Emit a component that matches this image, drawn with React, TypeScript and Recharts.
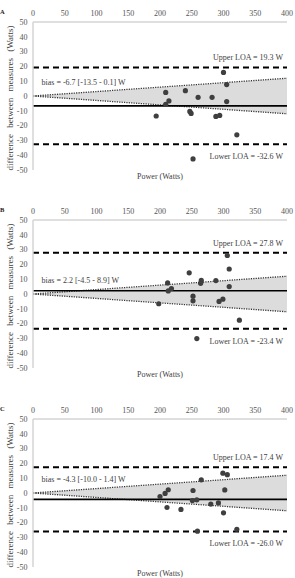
import React from "react";
import {
  ComposedChart,
  XAxis,
  YAxis,
  Scatter,
  Line,
  Area,
  ReferenceLine,
  ReferenceArea,
} from "recharts";

const powerTicks = [0, 50, 100, 150, 200, 250, 300, 350, 400];
const diffTicks = [-50, -40, -30, -20, -10, 0, 10, 20, 30, 40, 50];

// shaded confidence band (dotted edges), same in every panel
const bandPower = [0, 400];
const bandUpper = [0, 12];
const bandLower = [0, -12];

// panel A
const powerA = [194, 209, 209, 214, 240, 247, 249, 252, 260, 282, 288, 294, 300, 305, 305, 321];
const diffA = [-13.5, 2.4, -5.6, -3.3, 3.6, -10.4, -11.8, -42.5, -0.9, -0.9, -13.8, -13.1, 15.9, 7.7, -3.8, -26.2];

// panel B
const powerB = [198, 212, 213, 218, 246, 252, 252, 258, 265, 264, 288, 293, 299, 306, 309, 309, 325];
const diffB = [-6.6, 7.5, 2.1, 3.7, 14.3, -1.5, -4.6, -30.1, 9.2, 7.2, 9.1, -5.0, -3.5, 26, 16.9, 5.0, -17.7];

// panel C
const powerC = [200, 208, 213, 211, 233, 252, 251, 258, 265, 259, 280, 292, 299, 306, 302, 300, 321];
const diffC = [-2.4, -0.3, 2.2, -9.8, -11.1, 1.7, -5.1, -4.6, 8.9, -25.8, -7.5, -6.7, 13.4, 12.4, 2.1, -13.4, -24.5];

const panels = [
  { letter: "A", power: powerA, diff: diffA, bias: -6.7, upper: 19.3, lower: -32.6, biasText: "bias = -6.7 [-13.5 - 0.1] W", boxEnd: 150, top: 0 },
  { letter: "B", power: powerB, diff: diffB, bias: 2.2, upper: 27.8, lower: -23.4, biasText: "bias = 2.2 [-4.5 - 8.9] W", boxEnd: 140, top: 198 },
  { letter: "C", power: powerC, diff: diffC, bias: -4.3, upper: 17.4, lower: -26.0, biasText: "bias = -4.3 [-10.0 - 1.4] W", boxEnd: 150, top: 397 },
];

const serif = "'Liberation Serif', 'Times New Roman', serif";
const textColor = "#404040";

const Dot = (props: any) => (
  <circle cx={props.cx} cy={props.cy} r={2.6} fill="#3f3f3f" />
);

const loaLabel = (text: string, dy: number) => (p: any) => {
  const vb = p.viewBox || {};
  return (
    <text
      x={(vb.x || 0) + (vb.width || 0) - 4}
      y={(vb.y || 0) + dy}
      textAnchor="end"
      fontSize={8}
      fontFamily={serif}
      fill={textColor}
    >
      {text}
    </text>
  );
};

const biasLabel = (text: string) => (p: any) => {
  const vb = p.viewBox || {};
  return (
    <text
      x={(vb.x || 0) + 8.5}
      y={(vb.y || 0) + (vb.height || 0) / 2}
      dy="0.33em"
      fontSize={8}
      fontFamily={serif}
      fill={textColor}
    >
      {text}
    </text>
  );
};

function Panel({ letter, power, diff, bias, upper, lower, biasText, boxEnd, top }: any) {
  const points = power.map((p: number, i: number) => ({ power: p, diff: diff[i] }));
  const band = bandPower.map((p, i) => ({
    power: p,
    hi: bandUpper[i],
    lo: bandLower[i],
    range: [bandLower[i], bandUpper[i]],
  }));
  return (
    <div style={{ position: "absolute", left: 0, top, width: 295, height: 181 }}>
      <ComposedChart width={295} height={181} margin={{ top: 2, right: 8, bottom: 11, left: 0 }}>
        <XAxis
          type="number"
          dataKey="power"
          orientation="top"
          domain={[0, 400]}
          ticks={powerTicks}
          height={20}
          tickSize={0}
          tickMargin={6}
          axisLine={{ stroke: "#bfbfbf" }}
          tick={{ fontSize: 8, fontFamily: serif, fill: "#555" }}
        />
        <YAxis
          type="number"
          domain={[-50, 50]}
          ticks={diffTicks}
          width={33}
          tickSize={0}
          tickMargin={5.5}
          axisLine={{ stroke: "#d4d4d4", strokeWidth: 1.5 }}
          tick={{ fontSize: 8, fontFamily: serif, fill: "#555" }}
        />
        <Area
          data={band}
          dataKey="range"
          type="linear"
          fill="#dcdcdc"
          fillOpacity={1}
          stroke="none"
          isAnimationActive={false}
        />
        <Line data={band} dataKey="hi" type="linear" stroke="#333" strokeWidth={1.3} strokeDasharray="1.2 1.2" dot={false} isAnimationActive={false} />
        <Line data={band} dataKey="lo" type="linear" stroke="#333" strokeWidth={1.3} strokeDasharray="1.2 1.2" dot={false} isAnimationActive={false} />
        <ReferenceArea x1={0} x2={boxEnd} y1={6} y2={12.5} fill="#fff" fillOpacity={1} stroke="none" label={biasLabel(biasText)} />
        <ReferenceLine y={bias} stroke="#000" strokeWidth={1.6} />
        <ReferenceLine y={upper} stroke="#000" strokeWidth={2} strokeDasharray="6 4" label={loaLabel(`Upper LOA = ${upper.toFixed(1)} W`, -7)} />
        <ReferenceLine y={lower} stroke="#000" strokeWidth={2} strokeDasharray="6 4" label={loaLabel(`Lower LOA = ${lower.toFixed(1)} W`, 15)} />
        <Scatter data={points} dataKey="diff" shape={Dot} isAnimationActive={false} />
      </ComposedChart>
      <div style={{ position: "absolute", left: 0, top: 8, fontSize: 6.5, fontWeight: "bold", fontFamily: serif, color: "#222", lineHeight: "7px" }}>
        {letter}
      </div>
      <div
        style={{
          position: "absolute",
          left: 10,
          top: 98,
          transform: "translate(-50%, -50%) rotate(-90deg)",
          whiteSpace: "nowrap",
          fontSize: 9,
          wordSpacing: "4px",
          fontFamily: serif,
          color: textColor,
          lineHeight: "10px",
        }}
      >
        difference between measures (Watts)
      </div>
      <div
        style={{
          position: "absolute",
          left: 160,
          top: 177,
          transform: "translate(-50%, -50%)",
          whiteSpace: "nowrap",
          fontSize: 8,
          fontFamily: serif,
          color: textColor,
          lineHeight: "10px",
        }}
      >
        Power (Watts)
      </div>
    </div>
  );
}

export default function App() {
  return (
    <div style={{ position: "absolute", left: 0, top: 0, width: 295, height: 578, background: "#fff" }}>
      {panels.map((p) => (
        <Panel key={p.letter} {...p} />
      ))}
    </div>
  );
}
